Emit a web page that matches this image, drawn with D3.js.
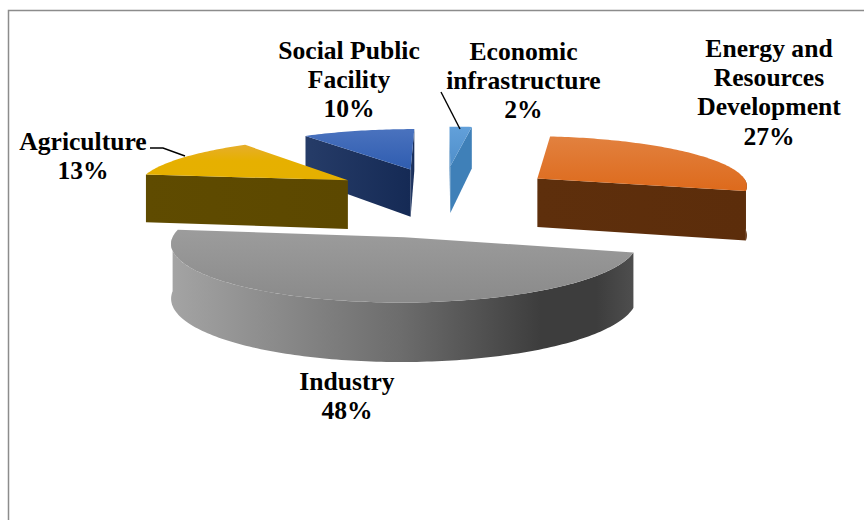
<!DOCTYPE html>
<html>
<head>
<meta charset="utf-8">
<script src="https://cdn.jsdelivr.net/npm/d3@7"></script>
<style>
html,body{margin:0;padding:0;background:#fff}
svg{display:block}
text{font-family:"Liberation Serif",serif;font-weight:700;fill:#000;text-anchor:middle}
</style>
</head>
<body>
<svg id="chart" width="864" height="520"></svg>
<script>
// Share of investment by sector, in percent
const categories = ["Energy and Resources Development", "Industry", "Agriculture", "Social Public Facility", "Economic infrastructure"];
const shares = [27, 48, 13, 10, 2];
const labelLines = [["Energy and", "Resources", "Development"], ["Industry"], ["Agriculture"], ["Social Public", "Facility"], ["Economic", "infrastructure"]];

// How far each slice is pulled out of the pie, and any sideways drift on top
const explosion = [118, 169, 115, 114, 124];
const drift = [0, -4, 1, 1, 0];

// Camera: a tilted plane with mild perspective
const cam = {cx: 443, cy: 194, radius: 214, tilt: 0.24, persp: 0.0005, depth: 50};

const labelStyle = [
  {x: 769, y: 57, leader: null},
  {x: 347, y: 390, leader: null},
  {x: 83, y: 150, leader: [[150, 148], [163, 148], [185, 156]]},
  {x: 349, y: 59, leader: null},
  {x: 523.5, y: 60, leader: [[441, 92], [460, 129]]}
];
const lineHeight = 29.2;

const faces = [
  {top: [[0, "#e2813f"], [1, "#dd6a1c"]], wall: ["#5e2f0c", "#5c2d0b"]},
  {top: [[0, "#9c9c9c"], [1, "#8a8a8a"]], wall: ["#a2a2a2", "#3c3c3c"]},
  {top: [[0, "#e6ae2c"], [0.45, "#e6b000"], [1, "#e5b000"]], wall: ["#5f4b00", "#5c4800"]},
  {top: [[0, "#4a72be"], [1, "#2f5db0"]], wall: ["#263c68", "#152a55"]},
  {top: [[0, "#62a0da"], [1, "#4f8fca"]], wall: ["#3f80b8", "#3f80b8"]}
];

const svg = d3.select("#chart");
const defs = svg.append("defs");

// Chart frame
svg.append("path")
  .attr("d", "M8.5,520V10.5H864")
  .attr("fill", "none").attr("stroke", "#8c8c8c").attr("stroke-width", 1.5);

const startAngle = 7.2 * Math.PI / 180;
const arcs = d3.pie().sort(null).startAngle(startAngle).endAngle(startAngle + 2 * Math.PI)(shares);

// World coordinates: x to the right, y toward the viewer
function project(X, Y, z) {
  const s = 1 + cam.persp * Y;
  return [cam.cx + X * s, cam.cy + (cam.tilt * Y + z * cam.depth) * s];
}

function slicePoint(arc, i, r, a, z) {
  const mid = (arc.startAngle + arc.endAngle) / 2;
  const X = explosion[i] * Math.sin(mid) + drift[i] + r * Math.sin(a);
  const Y = -explosion[i] * Math.cos(mid) - r * Math.cos(a);
  return project(X, Y, z);
}

function sampleAngles(a0, a1) {
  const n = Math.max(2, Math.ceil((a1 - a0) / 0.02));
  return d3.range(n + 1).map(k => a0 + (a1 - a0) * k / n);
}

const polygon = d3.line().curve(d3.curveLinear);
function closed(points) { return polygon(points) + "Z"; }

function gradient(id, stops, vertical) {
  const g = defs.append("linearGradient").attr("id", id)
    .attr("x1", 0).attr("y1", 0).attr("x2", vertical ? 0 : 1).attr("y2", vertical ? 1 : 0);
  stops.forEach(([off, col]) => g.append("stop").attr("offset", off).attr("stop-color", col));
  return `url(#${id})`;
}

const paintOrder = [4, 3, 2, 0, 1];
paintOrder.forEach(i => {
  const arc = arcs[i];
  const a0 = arc.startAngle, a1 = arc.endAngle;
  const g = svg.append("g").attr("class", "slice");
  const apex = slicePoint(arc, i, 0, 0, 0);
  const p0 = slicePoint(arc, i, cam.radius, a0, 0);
  const p1 = slicePoint(arc, i, cam.radius, a1, 0);

  const wallFill = i === 1
    ? gradient("wall" + i, [[0, "#a4a4a4"], [0.5, "#6c6c6c"], [0.8, "#3d3d3d"], [0.92, "#3d3d3d"], [1, "#4e4e4e"]], false)
    : gradient("wall" + i, [[0, faces[i].wall[0]], [1, faces[i].wall[1]]], false);

  // A cut face shows only when the top surface lies above its edge
  [[p0, p1, a0], [p1, p0, a1]].forEach(([p, other, a]) => {
    const slope = (p[1] - apex[1]) / (p[0] - apex[0]);
    const lineY = apex[1] + slope * (other[0] - apex[0]);
    if (other[1] < lineY) {
      const quad = [apex, p, slicePoint(arc, i, cam.radius, a, 1), slicePoint(arc, i, 0, 0, 1)];
      g.append("path").attr("d", closed(quad)).attr("fill", wallFill);
    }
  });

  // Rim: only the part of the circle turned toward the viewer
  const rim0 = Math.max(a0, Math.PI / 2), rim1 = Math.min(a1, 3 * Math.PI / 2);
  if (rim1 > rim0) {
    const angles = sampleAngles(rim0, rim1);
    const upper = angles.map(a => slicePoint(arc, i, cam.radius, a, 0));
    const lower = angles.map(a => slicePoint(arc, i, cam.radius, a, 1)).reverse();
    g.append("path").attr("d", closed(upper.concat(lower))).attr("fill", wallFill);
  }

  // Top surface
  const edge = sampleAngles(a0, a1).map(a => slicePoint(arc, i, cam.radius, a, 0));
  g.append("path").attr("d", closed([apex].concat(edge)))
    .attr("fill", gradient("top" + i, faces[i].top, true));
});

// Leader lines and labels
labelStyle.forEach((st, i) => {
  if (st.leader) {
    svg.append("path").attr("d", d3.line()(st.leader))
      .attr("fill", "none").attr("stroke", "#000").attr("stroke-width", 1.4);
  }
  const lines = labelLines[i].concat(shares[i] + "%");
  const t = svg.append("text").attr("font-size", 25.6);
  lines.forEach((line, k) => t.append("tspan").attr("x", st.x).attr("y", st.y + k * lineHeight).text(line));
});
</script>
</body>
</html>
